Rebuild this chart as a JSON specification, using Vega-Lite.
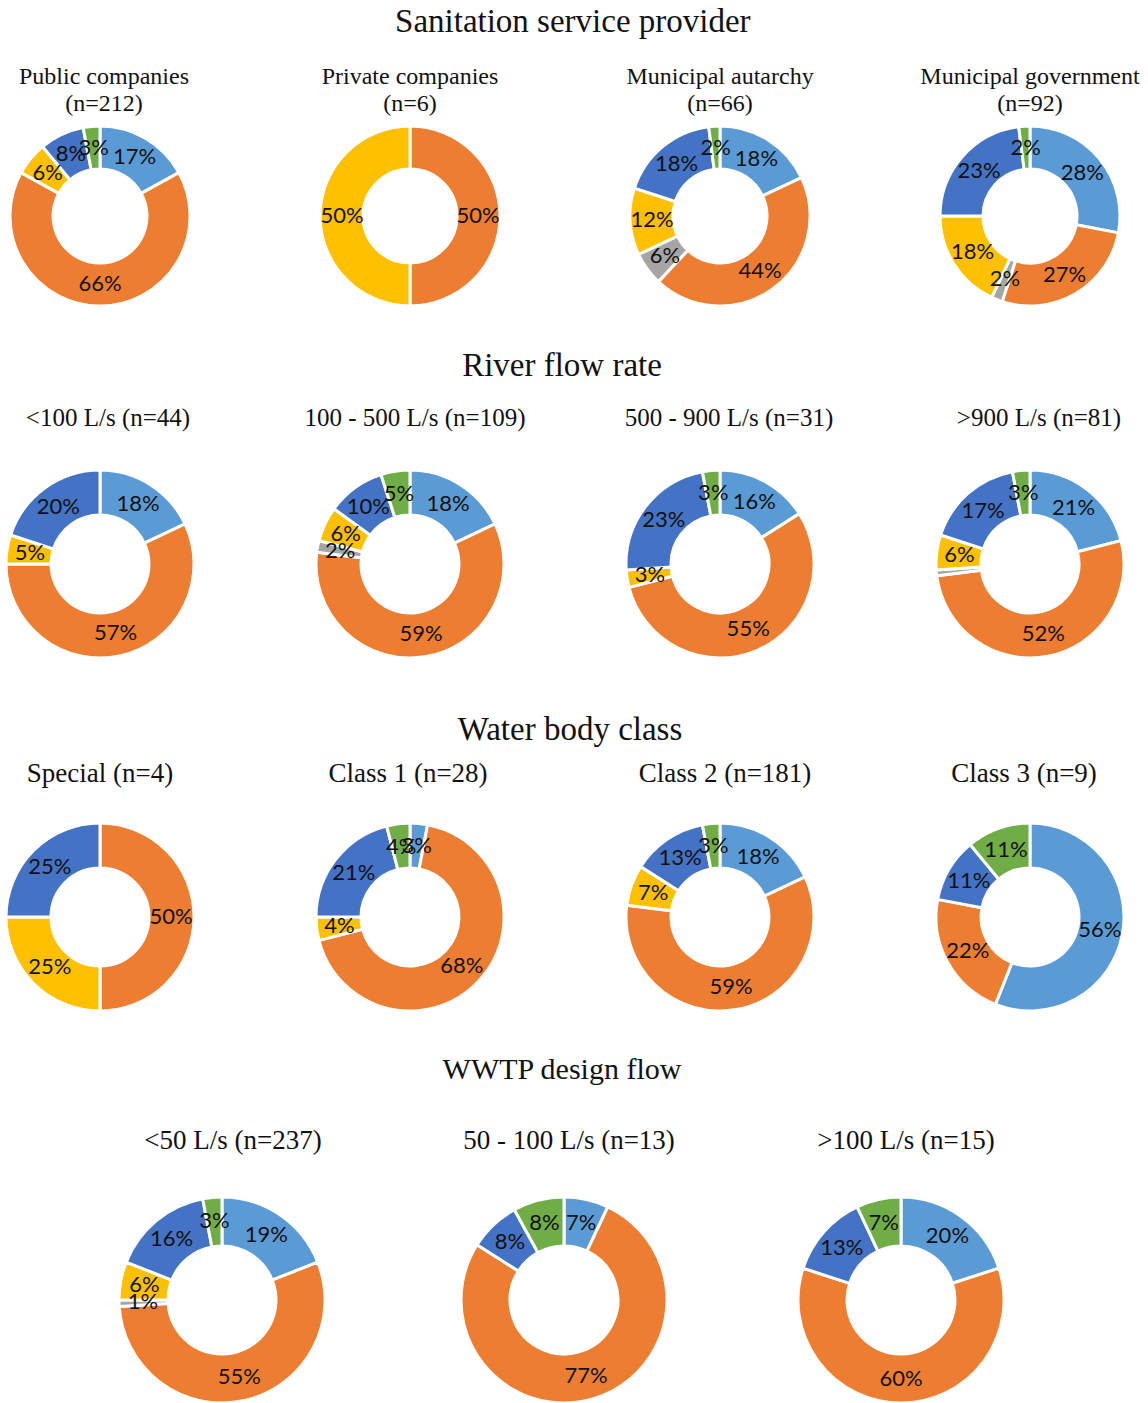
{
  "$schema": "https://vega.github.io/schema/vega-lite/v6.json",
  "background": "white",
  "padding": {"left": 0, "right": 0, "top": 6, "bottom": 0},
  "config": {
    "view": {"stroke": null},
    "title": {"font": "Liberation Serif", "fontWeight": "normal", "color": "#111", "fontSize": 24, "lineHeight": 27, "anchor": "middle"},
    "text": {"font": "Lato", "fontSize": 22, "color": "#111"},
    "arc": {"stroke": "white", "strokeWidth": 3}
  },
  "data": {"values": [
    {"g": "Public companies", "s": "Series 1", "p": 0.17},
    {"g": "Public companies", "s": "Series 2", "p": 0.66},
    {"g": "Public companies", "s": "Series 4", "p": 0.06},
    {"g": "Public companies", "s": "Series 5", "p": 0.08},
    {"g": "Public companies", "s": "Series 6", "p": 0.03},
    {"g": "Private companies", "s": "Series 2", "p": 0.50},
    {"g": "Private companies", "s": "Series 4", "p": 0.50},
    {"g": "Municipal autarchy", "s": "Series 1", "p": 0.18},
    {"g": "Municipal autarchy", "s": "Series 2", "p": 0.44},
    {"g": "Municipal autarchy", "s": "Series 3", "p": 0.06},
    {"g": "Municipal autarchy", "s": "Series 4", "p": 0.12},
    {"g": "Municipal autarchy", "s": "Series 5", "p": 0.18},
    {"g": "Municipal autarchy", "s": "Series 6", "p": 0.02},
    {"g": "Municipal government", "s": "Series 1", "p": 0.28},
    {"g": "Municipal government", "s": "Series 2", "p": 0.27},
    {"g": "Municipal government", "s": "Series 3", "p": 0.02},
    {"g": "Municipal government", "s": "Series 4", "p": 0.18},
    {"g": "Municipal government", "s": "Series 5", "p": 0.23},
    {"g": "Municipal government", "s": "Series 6", "p": 0.02},
    {"g": "<100 L/s", "s": "Series 1", "p": 0.18},
    {"g": "<100 L/s", "s": "Series 2", "p": 0.57},
    {"g": "<100 L/s", "s": "Series 4", "p": 0.05},
    {"g": "<100 L/s", "s": "Series 5", "p": 0.20},
    {"g": "100 - 500 L/s", "s": "Series 1", "p": 0.18},
    {"g": "100 - 500 L/s", "s": "Series 2", "p": 0.59},
    {"g": "100 - 500 L/s", "s": "Series 3", "p": 0.02},
    {"g": "100 - 500 L/s", "s": "Series 4", "p": 0.06},
    {"g": "100 - 500 L/s", "s": "Series 5", "p": 0.10},
    {"g": "100 - 500 L/s", "s": "Series 6", "p": 0.05},
    {"g": "500 - 900 L/s", "s": "Series 1", "p": 0.16},
    {"g": "500 - 900 L/s", "s": "Series 2", "p": 0.55},
    {"g": "500 - 900 L/s", "s": "Series 4", "p": 0.03},
    {"g": "500 - 900 L/s", "s": "Series 5", "p": 0.23},
    {"g": "500 - 900 L/s", "s": "Series 6", "p": 0.03},
    {"g": ">900 L/s", "s": "Series 1", "p": 0.21},
    {"g": ">900 L/s", "s": "Series 2", "p": 0.52},
    {"g": ">900 L/s", "s": "Series 3", "p": 0.01, "nolabel": true},
    {"g": ">900 L/s", "s": "Series 4", "p": 0.06},
    {"g": ">900 L/s", "s": "Series 5", "p": 0.17},
    {"g": ">900 L/s", "s": "Series 6", "p": 0.03},
    {"g": "Special", "s": "Series 2", "p": 0.50},
    {"g": "Special", "s": "Series 4", "p": 0.25},
    {"g": "Special", "s": "Series 5", "p": 0.25},
    {"g": "Class 1", "s": "Series 1", "p": 0.03},
    {"g": "Class 1", "s": "Series 2", "p": 0.68},
    {"g": "Class 1", "s": "Series 4", "p": 0.04},
    {"g": "Class 1", "s": "Series 5", "p": 0.21},
    {"g": "Class 1", "s": "Series 6", "p": 0.04},
    {"g": "Class 2", "s": "Series 1", "p": 0.18},
    {"g": "Class 2", "s": "Series 2", "p": 0.59},
    {"g": "Class 2", "s": "Series 4", "p": 0.07},
    {"g": "Class 2", "s": "Series 5", "p": 0.13},
    {"g": "Class 2", "s": "Series 6", "p": 0.03},
    {"g": "Class 3", "s": "Series 1", "p": 0.56},
    {"g": "Class 3", "s": "Series 2", "p": 0.22},
    {"g": "Class 3", "s": "Series 5", "p": 0.11},
    {"g": "Class 3", "s": "Series 6", "p": 0.11},
    {"g": "<50 L/s", "s": "Series 1", "p": 0.19},
    {"g": "<50 L/s", "s": "Series 2", "p": 0.55},
    {"g": "<50 L/s", "s": "Series 3", "p": 0.01},
    {"g": "<50 L/s", "s": "Series 4", "p": 0.06},
    {"g": "<50 L/s", "s": "Series 5", "p": 0.16},
    {"g": "<50 L/s", "s": "Series 6", "p": 0.03},
    {"g": "50 - 100 L/s", "s": "Series 1", "p": 0.07},
    {"g": "50 - 100 L/s", "s": "Series 2", "p": 0.77},
    {"g": "50 - 100 L/s", "s": "Series 5", "p": 0.08},
    {"g": "50 - 100 L/s", "s": "Series 6", "p": 0.08},
    {"g": ">100 L/s", "s": "Series 1", "p": 0.20},
    {"g": ">100 L/s", "s": "Series 2", "p": 0.60},
    {"g": ">100 L/s", "s": "Series 5", "p": 0.13},
    {"g": ">100 L/s", "s": "Series 6", "p": 0.07}
  ]},
  "vconcat": [
    {
      "title": {"text": "Sanitation service provider", "fontSize": 33, "offset": 26, "dx": 3},
      "spacing": 110, "bounds": "flush",
      "hconcat": [
        {"title": {"text": ["Public companies", "(n=212)"], "offset": 4, "dx": 4}, "width": 200, "height": 190,
         "transform": [{"filter": "datum.g === 'Public companies'"}],
         "encoding": {"theta": {"field": "p", "type": "quantitative", "stack": true}, "order": {"field": "s", "type": "ordinal", "sort": "ascending"}, "detail": {"field": "s", "type": "nominal"}},
         "layer": [
           {"mark": {"type": "arc", "outerRadius": 90, "innerRadius": 47}, "encoding": {"color": {"field": "s", "type": "nominal", "legend": null, "scale": {"domain": ["Series 1", "Series 2", "Series 3", "Series 4", "Series 5", "Series 6"], "range": ["#5B9BD5", "#ED7D31", "#A5A5A5", "#FFC000", "#4472C4", "#70AD47"]}}}},
           {"mark": {"type": "text", "radius": 68}, "encoding": {"text": {"condition": {"test": "datum.nolabel === true", "value": ""}, "field": "p", "type": "quantitative", "format": ".0%"}}}
         ]},
        {"title": {"text": ["Private companies", "(n=6)"], "offset": 4}, "width": 200, "height": 190,
         "transform": [{"filter": "datum.g === 'Private companies'"}],
         "encoding": {"theta": {"field": "p", "type": "quantitative", "stack": true}, "order": {"field": "s", "type": "ordinal", "sort": "ascending"}, "detail": {"field": "s", "type": "nominal"}},
         "layer": [
           {"mark": {"type": "arc", "outerRadius": 90, "innerRadius": 47}, "encoding": {"color": {"field": "s", "type": "nominal", "legend": null, "scale": {"domain": ["Series 1", "Series 2", "Series 3", "Series 4", "Series 5", "Series 6"], "range": ["#5B9BD5", "#ED7D31", "#A5A5A5", "#FFC000", "#4472C4", "#70AD47"]}}}},
           {"mark": {"type": "text", "radius": 68}, "encoding": {"text": {"condition": {"test": "datum.nolabel === true", "value": ""}, "field": "p", "type": "quantitative", "format": ".0%"}}}
         ]},
        {"title": {"text": ["Municipal autarchy", "(n=66)"], "offset": 4}, "width": 200, "height": 190,
         "transform": [{"filter": "datum.g === 'Municipal autarchy'"}],
         "encoding": {"theta": {"field": "p", "type": "quantitative", "stack": true}, "order": {"field": "s", "type": "ordinal", "sort": "ascending"}, "detail": {"field": "s", "type": "nominal"}},
         "layer": [
           {"mark": {"type": "arc", "outerRadius": 90, "innerRadius": 47}, "encoding": {"color": {"field": "s", "type": "nominal", "legend": null, "scale": {"domain": ["Series 1", "Series 2", "Series 3", "Series 4", "Series 5", "Series 6"], "range": ["#5B9BD5", "#ED7D31", "#A5A5A5", "#FFC000", "#4472C4", "#70AD47"]}}}},
           {"mark": {"type": "text", "radius": 68}, "encoding": {"text": {"condition": {"test": "datum.nolabel === true", "value": ""}, "field": "p", "type": "quantitative", "format": ".0%"}}}
         ]},
        {"title": {"text": ["Municipal government", "(n=92)"], "offset": 4}, "width": 200, "height": 190,
         "transform": [{"filter": "datum.g === 'Municipal government'"}],
         "encoding": {"theta": {"field": "p", "type": "quantitative", "stack": true}, "order": {"field": "s", "type": "ordinal", "sort": "ascending"}, "detail": {"field": "s", "type": "nominal"}},
         "layer": [
           {"mark": {"type": "arc", "outerRadius": 90, "innerRadius": 47}, "encoding": {"color": {"field": "s", "type": "nominal", "legend": null, "scale": {"domain": ["Series 1", "Series 2", "Series 3", "Series 4", "Series 5", "Series 6"], "range": ["#5B9BD5", "#ED7D31", "#A5A5A5", "#FFC000", "#4472C4", "#70AD47"]}}}},
           {"mark": {"type": "text", "radius": 68}, "encoding": {"text": {"condition": {"test": "datum.nolabel === true", "value": ""}, "field": "p", "type": "quantitative", "format": ".0%"}}}
         ]}
      ]
    },
    {
      "title": {"text": "River flow rate", "fontSize": 33, "offset": 23, "dx": -3},
      "spacing": 110, "bounds": "flush",
      "hconcat": [
        {"title": {"text": "<100 L/s (n=44)", "offset": 21, "fontSize": 25, "dx": 8}, "width": 200, "height": 224,
         "transform": [{"filter": "datum.g === '<100 L/s'"}],
         "encoding": {"theta": {"field": "p", "type": "quantitative", "stack": true}, "order": {"field": "s", "type": "ordinal", "sort": "ascending"}, "detail": {"field": "s", "type": "nominal"}},
         "layer": [
           {"mark": {"type": "arc", "outerRadius": 94, "innerRadius": 49}, "encoding": {"color": {"field": "s", "type": "nominal", "legend": null, "scale": {"domain": ["Series 1", "Series 2", "Series 3", "Series 4", "Series 5", "Series 6"], "range": ["#5B9BD5", "#ED7D31", "#A5A5A5", "#FFC000", "#4472C4", "#70AD47"]}}}},
           {"mark": {"type": "text", "radius": 71}, "encoding": {"text": {"condition": {"test": "datum.nolabel === true", "value": ""}, "field": "p", "type": "quantitative", "format": ".0%"}}}
         ]},
        {"title": {"text": "100 - 500 L/s (n=109)", "offset": 21, "fontSize": 25, "dx": 5}, "width": 200, "height": 224,
         "transform": [{"filter": "datum.g === '100 - 500 L/s'"}],
         "encoding": {"theta": {"field": "p", "type": "quantitative", "stack": true}, "order": {"field": "s", "type": "ordinal", "sort": "ascending"}, "detail": {"field": "s", "type": "nominal"}},
         "layer": [
           {"mark": {"type": "arc", "outerRadius": 94, "innerRadius": 49}, "encoding": {"color": {"field": "s", "type": "nominal", "legend": null, "scale": {"domain": ["Series 1", "Series 2", "Series 3", "Series 4", "Series 5", "Series 6"], "range": ["#5B9BD5", "#ED7D31", "#A5A5A5", "#FFC000", "#4472C4", "#70AD47"]}}}},
           {"mark": {"type": "text", "radius": 71}, "encoding": {"text": {"condition": {"test": "datum.nolabel === true", "value": ""}, "field": "p", "type": "quantitative", "format": ".0%"}}}
         ]},
        {"title": {"text": "500 - 900 L/s (n=31)", "offset": 21, "fontSize": 25, "dx": 9}, "width": 200, "height": 224,
         "transform": [{"filter": "datum.g === '500 - 900 L/s'"}],
         "encoding": {"theta": {"field": "p", "type": "quantitative", "stack": true}, "order": {"field": "s", "type": "ordinal", "sort": "ascending"}, "detail": {"field": "s", "type": "nominal"}},
         "layer": [
           {"mark": {"type": "arc", "outerRadius": 94, "innerRadius": 49}, "encoding": {"color": {"field": "s", "type": "nominal", "legend": null, "scale": {"domain": ["Series 1", "Series 2", "Series 3", "Series 4", "Series 5", "Series 6"], "range": ["#5B9BD5", "#ED7D31", "#A5A5A5", "#FFC000", "#4472C4", "#70AD47"]}}}},
           {"mark": {"type": "text", "radius": 71}, "encoding": {"text": {"condition": {"test": "datum.nolabel === true", "value": ""}, "field": "p", "type": "quantitative", "format": ".0%"}}}
         ]},
        {"title": {"text": ">900 L/s (n=81)", "offset": 21, "fontSize": 25, "dx": 9}, "width": 200, "height": 224,
         "transform": [{"filter": "datum.g === '>900 L/s'"}],
         "encoding": {"theta": {"field": "p", "type": "quantitative", "stack": true}, "order": {"field": "s", "type": "ordinal", "sort": "ascending"}, "detail": {"field": "s", "type": "nominal"}},
         "layer": [
           {"mark": {"type": "arc", "outerRadius": 94, "innerRadius": 49}, "encoding": {"color": {"field": "s", "type": "nominal", "legend": null, "scale": {"domain": ["Series 1", "Series 2", "Series 3", "Series 4", "Series 5", "Series 6"], "range": ["#5B9BD5", "#ED7D31", "#A5A5A5", "#FFC000", "#4472C4", "#70AD47"]}}}},
           {"mark": {"type": "text", "radius": 71}, "encoding": {"text": {"condition": {"test": "datum.nolabel === true", "value": ""}, "field": "p", "type": "quantitative", "format": ".0%"}}}
         ]}
      ]
    },
    {
      "title": {"text": "Water body class", "fontSize": 33, "offset": 13, "dx": 5},
      "spacing": 110, "bounds": "flush",
      "hconcat": [
        {"title": {"text": "Special (n=4)", "offset": 29, "fontSize": 27}, "width": 200, "height": 200,
         "transform": [{"filter": "datum.g === 'Special'"}],
         "encoding": {"theta": {"field": "p", "type": "quantitative", "stack": true}, "order": {"field": "s", "type": "ordinal", "sort": "ascending"}, "detail": {"field": "s", "type": "nominal"}},
         "layer": [
           {"mark": {"type": "arc", "outerRadius": 94, "innerRadius": 49}, "encoding": {"color": {"field": "s", "type": "nominal", "legend": null, "scale": {"domain": ["Series 1", "Series 2", "Series 3", "Series 4", "Series 5", "Series 6"], "range": ["#5B9BD5", "#ED7D31", "#A5A5A5", "#FFC000", "#4472C4", "#70AD47"]}}}},
           {"mark": {"type": "text", "radius": 71}, "encoding": {"text": {"condition": {"test": "datum.nolabel === true", "value": ""}, "field": "p", "type": "quantitative", "format": ".0%"}}}
         ]},
        {"title": {"text": "Class 1 (n=28)", "offset": 29, "fontSize": 27, "dx": -2}, "width": 200, "height": 200,
         "transform": [{"filter": "datum.g === 'Class 1'"}],
         "encoding": {"theta": {"field": "p", "type": "quantitative", "stack": true}, "order": {"field": "s", "type": "ordinal", "sort": "ascending"}, "detail": {"field": "s", "type": "nominal"}},
         "layer": [
           {"mark": {"type": "arc", "outerRadius": 94, "innerRadius": 49}, "encoding": {"color": {"field": "s", "type": "nominal", "legend": null, "scale": {"domain": ["Series 1", "Series 2", "Series 3", "Series 4", "Series 5", "Series 6"], "range": ["#5B9BD5", "#ED7D31", "#A5A5A5", "#FFC000", "#4472C4", "#70AD47"]}}}},
           {"mark": {"type": "text", "radius": 71}, "encoding": {"text": {"condition": {"test": "datum.nolabel === true", "value": ""}, "field": "p", "type": "quantitative", "format": ".0%"}}}
         ]},
        {"title": {"text": "Class 2 (n=181)", "offset": 29, "fontSize": 27, "dx": 5}, "width": 200, "height": 200,
         "transform": [{"filter": "datum.g === 'Class 2'"}],
         "encoding": {"theta": {"field": "p", "type": "quantitative", "stack": true}, "order": {"field": "s", "type": "ordinal", "sort": "ascending"}, "detail": {"field": "s", "type": "nominal"}},
         "layer": [
           {"mark": {"type": "arc", "outerRadius": 94, "innerRadius": 49}, "encoding": {"color": {"field": "s", "type": "nominal", "legend": null, "scale": {"domain": ["Series 1", "Series 2", "Series 3", "Series 4", "Series 5", "Series 6"], "range": ["#5B9BD5", "#ED7D31", "#A5A5A5", "#FFC000", "#4472C4", "#70AD47"]}}}},
           {"mark": {"type": "text", "radius": 71}, "encoding": {"text": {"condition": {"test": "datum.nolabel === true", "value": ""}, "field": "p", "type": "quantitative", "format": ".0%"}}}
         ]},
        {"title": {"text": "Class 3 (n=9)", "offset": 29, "fontSize": 27, "dx": -6}, "width": 200, "height": 200,
         "transform": [{"filter": "datum.g === 'Class 3'"}],
         "encoding": {"theta": {"field": "p", "type": "quantitative", "stack": true}, "order": {"field": "s", "type": "ordinal", "sort": "ascending"}, "detail": {"field": "s", "type": "nominal"}},
         "layer": [
           {"mark": {"type": "arc", "outerRadius": 94, "innerRadius": 49}, "encoding": {"color": {"field": "s", "type": "nominal", "legend": null, "scale": {"domain": ["Series 1", "Series 2", "Series 3", "Series 4", "Series 5", "Series 6"], "range": ["#5B9BD5", "#ED7D31", "#A5A5A5", "#FFC000", "#4472C4", "#70AD47"]}}}},
           {"mark": {"type": "text", "radius": 71}, "encoding": {"text": {"condition": {"test": "datum.nolabel === true", "value": ""}, "field": "p", "type": "quantitative", "format": ".0%"}}}
         ]}
      ]
    },
    {
      "title": {"text": "WWTP design flow", "fontSize": 30, "offset": 42, "dx": 3},
      "spacing": 14, "bounds": "flush",
      "hconcat": [
        {"title": {"text": "<50 L/s (n=237)", "offset": 36, "fontSize": 27, "dx": 11}, "width": 444, "height": 206,
         "transform": [{"filter": "datum.g === '<50 L/s'"}],
         "encoding": {"theta": {"field": "p", "type": "quantitative", "stack": true}, "order": {"field": "s", "type": "ordinal", "sort": "ascending"}, "detail": {"field": "s", "type": "nominal"}},
         "layer": [
           {"mark": {"type": "arc", "outerRadius": 103, "innerRadius": 54}, "encoding": {"color": {"field": "s", "type": "nominal", "legend": null, "scale": {"domain": ["Series 1", "Series 2", "Series 3", "Series 4", "Series 5", "Series 6"], "range": ["#5B9BD5", "#ED7D31", "#A5A5A5", "#FFC000", "#4472C4", "#70AD47"]}}}},
           {"mark": {"type": "text", "radius": 79}, "encoding": {"text": {"condition": {"test": "datum.nolabel === true", "value": ""}, "field": "p", "type": "quantitative", "format": ".0%"}}}
         ]},
        {"title": {"text": "50 - 100 L/s (n=13)", "offset": 36, "fontSize": 27, "dx": 5}, "width": 212, "height": 206,
         "transform": [{"filter": "datum.g === '50 - 100 L/s'"}],
         "encoding": {"theta": {"field": "p", "type": "quantitative", "stack": true}, "order": {"field": "s", "type": "ordinal", "sort": "ascending"}, "detail": {"field": "s", "type": "nominal"}},
         "layer": [
           {"mark": {"type": "arc", "outerRadius": 103, "innerRadius": 54}, "encoding": {"color": {"field": "s", "type": "nominal", "legend": null, "scale": {"domain": ["Series 1", "Series 2", "Series 3", "Series 4", "Series 5", "Series 6"], "range": ["#5B9BD5", "#ED7D31", "#A5A5A5", "#FFC000", "#4472C4", "#70AD47"]}}}},
           {"mark": {"type": "text", "radius": 79}, "encoding": {"text": {"condition": {"test": "datum.nolabel === true", "value": ""}, "field": "p", "type": "quantitative", "format": ".0%"}}}
         ]},
        {"title": {"text": ">100 L/s (n=15)", "offset": 36, "fontSize": 27, "dx": 5}, "width": 434, "height": 206,
         "transform": [{"filter": "datum.g === '>100 L/s'"}],
         "encoding": {"theta": {"field": "p", "type": "quantitative", "stack": true}, "order": {"field": "s", "type": "ordinal", "sort": "ascending"}, "detail": {"field": "s", "type": "nominal"}},
         "layer": [
           {"mark": {"type": "arc", "outerRadius": 103, "innerRadius": 54}, "encoding": {"color": {"field": "s", "type": "nominal", "legend": null, "scale": {"domain": ["Series 1", "Series 2", "Series 3", "Series 4", "Series 5", "Series 6"], "range": ["#5B9BD5", "#ED7D31", "#A5A5A5", "#FFC000", "#4472C4", "#70AD47"]}}}},
           {"mark": {"type": "text", "radius": 79}, "encoding": {"text": {"condition": {"test": "datum.nolabel === true", "value": ""}, "field": "p", "type": "quantitative", "format": ".0%"}}}
         ]}
      ]
    }
  ],
  "spacing": 38
}
